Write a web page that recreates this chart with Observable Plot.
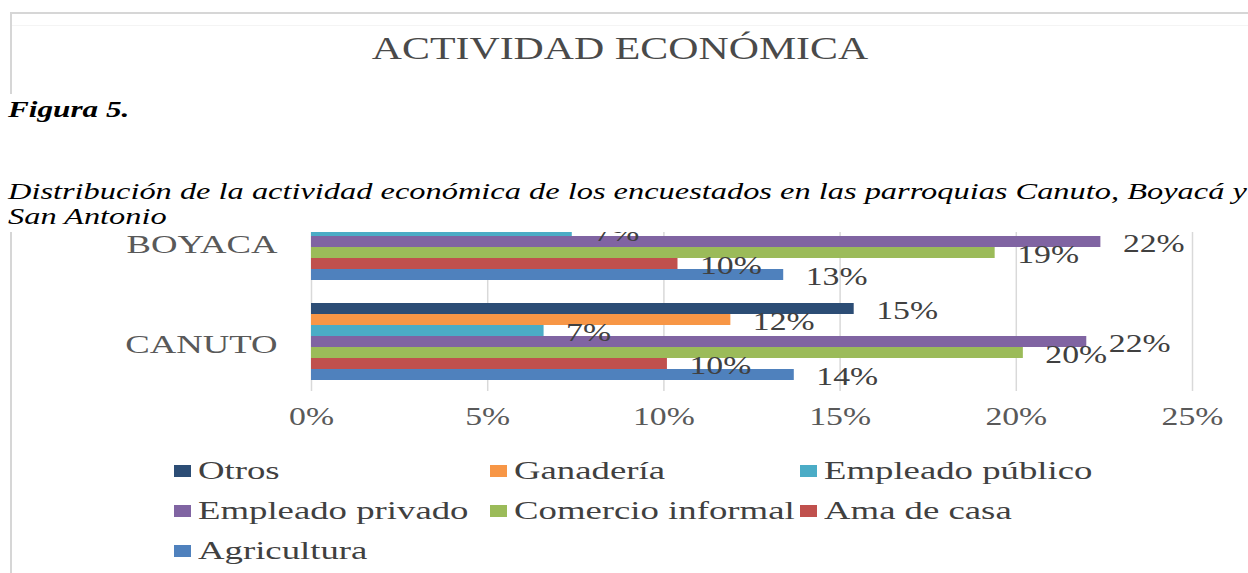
<!DOCTYPE html>
<html><head><meta charset="utf-8">
<script src="https://cdn.jsdelivr.net/npm/d3@7"></script>
<script src="https://cdn.jsdelivr.net/npm/@observablehq/plot@0.6"></script>
<style>
html,body{margin:0;padding:0;background:#fff;}
body{width:1248px;height:573px;position:relative;overflow:hidden;font-family:"Liberation Serif","Times New Roman",serif;}
.t{position:absolute;white-space:nowrap;line-height:1;transform-origin:0 0;display:block;}
#clip{position:absolute;left:0;top:232px;width:1248px;height:204px;overflow:hidden;}
#clip svg{position:absolute;left:0;top:-82px;}
.sw{position:absolute;width:17px;height:12px;}
</style></head><body>
<script>
// ---- data ----
const parroquias = ["BOYACA", "CANUTO"];
const actividades = ["Otros", "Ganadería", "Empleado público", "Empleado privado", "Comercio informal", "Ama de casa", "Agricultura"];
const colores = ["#2C4D75", "#F79646", "#4BACC6", "#8064A2", "#9BBB59", "#C0504D", "#4F81BD"];
const valoresBoyaca = [null, null, 7.4, 22.4, 19.4, 10.4, 13.4];
const valoresCanuto = [15.4, 11.9, 6.6, 22.0, 20.2, 10.1, 13.7];
const ticksX = [0, 5, 10, 15, 20, 25];
const titulo = "ACTIVIDAD ECONÓMICA";
const figura = "Figura 5.";
const leyenda1 = "Distribución de la actividad económica de los encuestados en las parroquias Canuto, Boyacá y";
const leyenda2 = "San Antonio";

const tabla = [];
parroquias.forEach((p, i) => {
  const vals = i === 0 ? valoresBoyaca : valoresCanuto;
  actividades.forEach((a, j) => {
    if (vals[j] != null) tabla.push({parroquia: p, actividad: a, valor: vals[j]});
  });
});

const S = 1.35;
const SL = 1.47;
const body = document.body;

function addText(txt, opts) {
  const d = document.createElement("div");
  d.className = "t";
  d.textContent = txt;
  d.style.fontSize = opts.size + "px";
  d.style.top = opts.top + "px";
  d.style.left = opts.left + "px";
  d.style.color = opts.color || "#000";
  if (opts.weight) d.style.fontWeight = opts.weight;
  if (opts.italic) d.style.fontStyle = "italic";
  if (opts.center) {
    d.style.transformOrigin = "50% 0";
    d.style.transform = `translateX(-50%) scaleX(${opts.scale || S})`;
  } else {
    d.style.transform = `scaleX(${opts.scale || S})`;
  }
  body.appendChild(d);
  return d;
}

// top box
const box = document.createElement("div");
box.style.cssText = "position:absolute;left:10px;top:12px;width:1260px;height:80px;border-top:2px solid #d6d6d6;border-left:2px solid #d6d6d6;";
body.appendChild(box);
const inner = document.createElement("div");
inner.style.cssText = "position:absolute;left:12px;top:25px;width:1240px;height:1px;background:#f4f4f4;";
body.appendChild(inner);
const leftLine = document.createElement("div");
leftLine.style.cssText = "position:absolute;left:10px;top:232px;width:2px;height:341px;background:#d6d6d6;";
body.appendChild(leftLine);

addText(titulo, {size: 31, top: 33, left: 620, color: "#4a4a4a", center: true});
addText(figura, {size: 24, top: 97, left: 8, weight: "bold", italic: true, scale: 1.3});
addText(leyenda1, {size: 24, top: 179, left: 8, italic: true});
addText(leyenda2, {size: 24, top: 204, left: 8, italic: true});

// chart
const chart = Plot.plot({
  width: 1248, height: 286,
  marginLeft: 311, marginRight: 56, marginTop: 41, marginBottom: 45,
  style: {fontFamily: "Liberation Serif, Times New Roman, serif", fontSize: "25px", color: "#595959", background: "transparent", overflow: "visible"},
  facet: {data: tabla, y: "parroquia"},
  fy: {domain: parroquias, padding: 0, label: null, axis: "left", tickSize: 0, tickPadding: 34},
  x: {domain: [0, 25], ticks: ticksX, tickFormat: d => d + "%", tickSize: 0, tickPadding: 16, label: null},
  y: {domain: actividades, axis: null, paddingInner: 0, paddingOuter: 0.925},
  color: {domain: actividades, range: colores},
  marks: [
    Plot.ruleX(ticksX, {stroke: "#d9d9d9", strokeWidth: 1.5}),
    Plot.barX(tabla, {x: "valor", y: "actividad", fill: "actividad"}),
    Plot.text(tabla, {x: "valor", y: "actividad", text: d => `${Math.round(d.valor)}%`, textAnchor: "start", dx: 22, dy: 2, fill: "#404040", fontSize: 25})
  ]
});
chart.querySelectorAll("text").forEach(t => {
  const x = parseFloat(t.getAttribute("x")) || 0;
  t.removeAttribute("x");
  const tr = t.getAttribute("transform") || "";
  const isGroup = parroquias.includes(t.textContent.trim());
  const s = isGroup ? SL : S;
  const shiftY = isGroup ? 3 : 0;
  t.setAttribute("transform", `${tr} translate(${x},${shiftY}) scale(${s},1)`);
  t.style.fontSize = "25px";
  t.style.fontFamily = "Liberation Serif, Times New Roman, serif";
});
const clip = document.createElement("div");
clip.id = "clip";
clip.appendChild(chart);
body.appendChild(clip);

// legend
const colsX = [174, 490, 800];
const rowsBase = [479, 519, 559];
actividades.forEach((a, i) => {
  const c = i % 3, r = Math.floor(i / 3);
  const sw = document.createElement("div");
  sw.className = "sw";
  sw.style.left = colsX[c] + "px";
  sw.style.top = (rowsBase[r] - 14) + "px";
  sw.style.background = colores[i];
  body.appendChild(sw);
  addText(a, {size: 25, top: rowsBase[r] - 21, left: colsX[c] + 24, color: "#404040", scale: SL});
});
</script>
</body></html>
